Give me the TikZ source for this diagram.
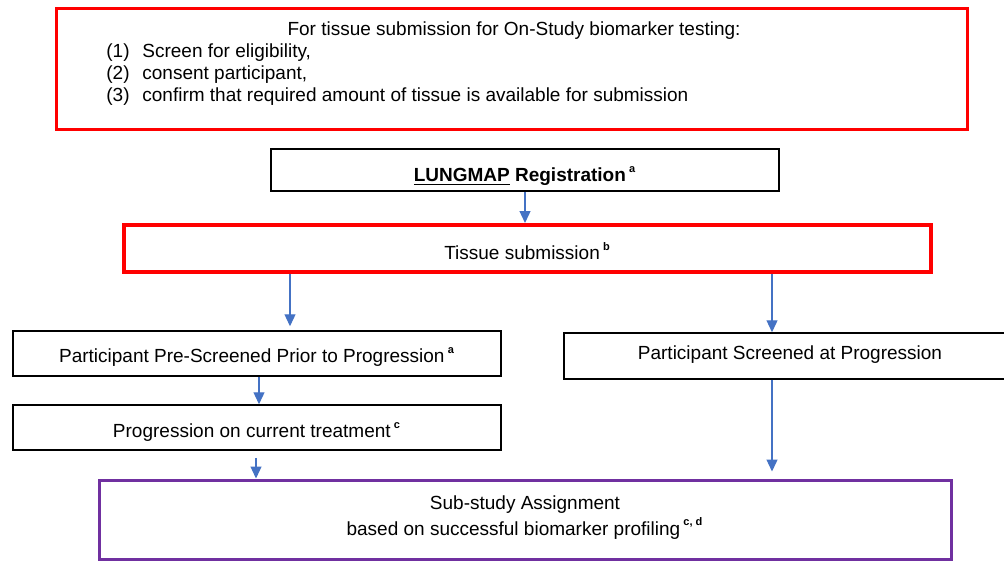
\documentclass[tikz,border=0pt]{standalone}
\usepackage{fontspec}
\setmainfont{Liberation Sans}
\usetikzlibrary{positioning}
\usetikzlibrary{arrows.meta}
\definecolor{flowblue}{HTML}{4472C4}
\definecolor{subviolet}{HTML}{7030A0}
\tikzset{
    mybox/.style = {rectangle, draw=black, line width=0.75pt, inner sep=0pt, align=center},
    myboxr/.style = {rectangle, draw=red, line width=1.5pt, inner sep=0pt},
    myboxrr/.style = {rectangle, draw=red, line width=2pt, inner sep=0pt, align=center},
    myboxp/.style = {rectangle, draw=subviolet, line width=1.5pt, inner sep=0pt, align=center},
    mytext/.style = {inner sep=0pt, anchor=west},
    edgeb/.style = {-{Triangle[length=6pt,width=5.5pt]}, line width=0.65pt, draw=flowblue, color=flowblue},
    every picture/.style={font issue=\fontsize{9.5}{13}},
    font issue/.style={execute at begin picture={#1\selectfont}}
}
\newcommand{\note}[1]{\,\raisebox{1pt}{\textsuperscript{\fontsize{5.5}{5.5}\selectfont\bfseries #1}}}

\begin{document}
\begin{tikzpicture}[x=0.5pt,y=-0.5pt]
%
\path[use as bounding box] (0,0) rectangle (1004,561);
%
\node[myboxr, minimum width=455.5pt, minimum height=60.5pt] at (511.5,69.5) (info) {};
\node[inner sep=0pt] at (514,31) (title) {For tissue submission for On-Study biomarker testing:};
\node[mytext] at (106,53) (step1) {\makebox[18pt][l]{(1)}Screen for eligibility,};
\node[mytext] at (106,75) (step2) {\makebox[18pt][l]{(2)}consent participant,};
\node[mytext] at (106,97) (step3) {\makebox[18pt][l]{(3)}confirm that required amount of tissue is available for submission};
%
\node[mybox, minimum width=254pt, minimum height=21pt, text height=11.8pt, text depth=0pt] at (525,170) (reg) {\textbf{\underline{LUNGMAP} Registration}\note{a}};
\node[myboxrr, minimum width=403.5pt, minimum height=23.5pt, text height=11.3pt, text depth=0pt] at (527.5,248.5) (tissue) {Tissue submission\note{b}};
\node[mybox, minimum width=244pt, minimum height=22.5pt, text height=9.3pt, text depth=0pt] at (257,353.5) (pre) {Participant Pre-Screened Prior to Progression\note{a}};
\node[mybox, minimum width=223pt, minimum height=23pt, text height=3.3pt, text depth=0pt] at (787,356) (scr) {\hspace*{3pt}Participant Screened at Progression};
\node[mybox, minimum width=244pt, minimum height=22.5pt, text height=10.3pt, text depth=0pt] at (257,427.5) (prog) {Progression on current treatment\note{c}};
\node[myboxp, minimum width=426pt, minimum height=39.5pt, text depth=4pt] at (525,519.5) (sub) {Sub-study Assignment\\based on successful biomarker profiling\note{c, d}};
%
\coordinate (tL) at (290,0);
\coordinate (tR) at (772,0);
\coordinate (pL) at (259,0);
\coordinate (gL) at (256,0);
%
\draw[edgeb] (reg.south) -- (tissue.north -| reg.south);
\draw[edgeb, shorten >=2pt] (tissue.south -| tL) -- (pre.north -| tL);
\draw[edgeb] (tissue.south -| tR) -- (scr.north -| tR);
\draw[edgeb] (pre.south -| pL) -- (prog.north -| pL);
\draw[edgeb, shorten <=3.5pt] (prog.south -| gL) -- (sub.north -| gL);
\draw[edgeb, shorten >=3.5pt] (scr.south -| tR) -- (sub.north -| tR);

\end{tikzpicture}
\end{document}
